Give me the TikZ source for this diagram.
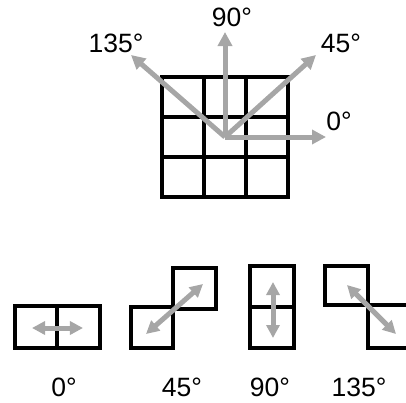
\documentclass[tikz,border=0pt]{standalone}
\usepackage{fontspec}
\setmainfont{Liberation Sans}
\usetikzlibrary{arrows.meta}
\definecolor{arrowgray}{RGB}{166,166,166}
\tikzset{
  cellline/.style={line width=4bp, black, line join=miter},
  grayarrow/.style={line width=5bp, arrowgray, -{Triangle[length=14bp,width=14bp]}},
  grayboth/.style={line width=5bp, arrowgray, {Triangle[length=13bp,width=13bp]}-{Triangle[length=13bp,width=13bp]}},
  lbl/.style={font=\fontsize{26.5bp}{29bp}\selectfont, inner sep=0pt}
}
\begin{document}
\begin{tikzpicture}[x=1bp,y=-1bp]
\useasboundingbox (0,0) rectangle (406,403);
\clip (0,0) rectangle (406,403);
% 3x3 grid
\draw[cellline] (162,77) rectangle (288,197);
\draw[cellline] (204,77) -- (204,197) (246,77) -- (246,197)
                (162,117) -- (288,117) (162,157) -- (288,157);
% arrows from centre
\coordinate (o) at (225,137);
\coordinate (a0) at (326,137);
\coordinate (a45) at (316,55);
\coordinate (a90) at (225,32);
\coordinate (a135) at (131,55);
\draw[grayarrow] (o) -- (a135);
\draw[grayarrow] (o) -- (a45);
\draw[grayarrow] (o) -- (a0);
\draw[grayarrow] (o) -- (a90);
\node[lbl] (t90) at (232,17) {90°};
\node[lbl] (t135) at (116,43) {135°};
\node[lbl] (t45) at (341,43) {45°};
\node[lbl] (t0) at (339,121) {0°};
% 0 degrees pair
\draw[cellline] (15,306) rectangle (100,348);
\draw[cellline] (57,306) -- (57,348);
\coordinate (b0l) at (32,328);
\coordinate (b0r) at (83,328);
\draw[grayboth] (b0l) -- (b0r);
% 45 degrees pair
\draw[cellline] (131,307) rectangle (173,348);
\draw[cellline] (173,268) rectangle (216,309);
\coordinate (b45a) at (146,334);
\coordinate (b45b) at (203,284);
\draw[grayboth] (b45a) -- (b45b);
% 90 degrees pair
\draw[cellline] (250,266) rectangle (294,348);
\draw[cellline] (250,307) -- (294,307);
\coordinate (b90a) at (273,282);
\coordinate (b90b) at (273,338);
\draw[grayboth] (b90a) -- (b90b);
% 135 degrees pair
\draw[cellline] (325,266) rectangle (368,305);
\draw[cellline] (368,305) rectangle (412,348);
\coordinate (b135a) at (347,285);
\coordinate (b135b) at (396,334);
\draw[grayboth] (b135a) -- (b135b);
% labels
\node[lbl] (l0) at (64,387) {0°};
\node[lbl] (l45) at (182,387) {45°};
\node[lbl] (l90) at (270,387) {90°};
\node[lbl] (l135) at (359,387) {135°};
\end{tikzpicture}
\end{document}
